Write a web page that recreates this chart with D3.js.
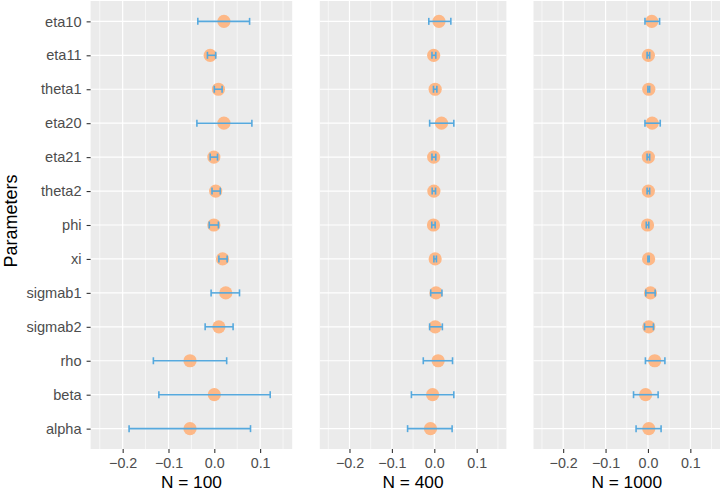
<!DOCTYPE html>
<html>
<head>
<meta charset="utf-8">
<script src="https://cdn.jsdelivr.net/npm/d3@7"></script>
<style>
  body { margin: 0; background: #fff; }
  svg { font-family: "Liberation Sans", Arial, sans-serif; }
</style>
</head>
<body>
<svg id="chart" width="722" height="491"></svg>
<script>
// parameters, top to bottom
const params = ["eta10", "eta11", "theta1", "eta20", "eta21", "theta2", "phi",
                "xi", "sigmab1", "sigmab2", "rho", "beta", "alpha"];

// N = 100
const est100 = [0.021, -0.009, 0.009, 0.021, -0.001, 0.003, -0.001, 0.018, 0.025, 0.010, -0.053, 0.000, -0.053];
const lo100  = [-0.036, -0.015, 0.000, -0.038, -0.009, -0.005, -0.011, 0.010, -0.007, -0.020, -0.133, -0.121, -0.186];
const hi100  = [0.077, 0.003, 0.017, 0.082, 0.007, 0.013, 0.009, 0.028, 0.055, 0.041, 0.027, 0.122, 0.079];

// N = 400
const est400 = [0.011, -0.0015, 0.002, 0.017, -0.0015, -0.001, -0.002, 0.002, 0.004, 0.002, 0.009, -0.004, -0.009];
const lo400  = [-0.013, -0.0055, -0.002, -0.011, -0.0055, -0.005, -0.006, -0.001, -0.0085, -0.011, -0.026, -0.054, -0.063];
const hi400  = [0.039, 0.0035, 0.006, 0.046, 0.0035, 0.003, 0.002, 0.005, 0.018, 0.019, 0.043, 0.046, 0.042];

// N = 1000
const est1000 = [0.009, 0.001, 0.002, 0.010, 0.001, 0.001, -0.001, 0.0016, 0.006, 0.002, 0.016, -0.0055, 0.002];
const lo1000  = [-0.007, -0.002, 0.000, -0.007, -0.002, -0.002, -0.004, 0.000, -0.005, -0.008, -0.006, -0.034, -0.028];
const hi1000  = [0.0275, 0.004, 0.004, 0.029, 0.004, 0.004, 0.002, 0.003, 0.017, 0.013, 0.040, 0.024, 0.031];

const panels = [
  {title: "N = 100",  est: est100,  lo: lo100,  hi: hi100,  x0: 90.6,  x1: 292.2},
  {title: "N = 400",  est: est400,  lo: lo400,  hi: hi400,  x0: 319.8, x1: 506.4},
  {title: "N = 1000", est: est1000, lo: lo1000, hi: hi1000, x0: 533.5, x1: 720}
];

const xTicks = [-0.2, -0.1, 0.0, 0.1],
      xMinor = [-0.25, -0.15, -0.05, 0.05, 0.15];

const plotTop = 1, plotBottom = 449;

const svg = d3.select("#chart");

const y = d3.scalePoint()
    .domain(params)
    .range([plotTop, plotBottom])
    .padding(0.6);

panels.forEach((p, pi) => {
  const x = d3.scaleLinear().domain([-0.27, 0.17]).range([p.x0, p.x1]);
  const g = svg.append("g");

  g.append("rect")
    .attr("x", p.x0).attr("y", plotTop)
    .attr("width", p.x1 - p.x0).attr("height", plotBottom - plotTop)
    .attr("fill", "#ebebeb");

  // minor grid
  g.selectAll(".minor").data(xMinor).enter().append("line")
    .attr("x1", d => x(d)).attr("x2", d => x(d))
    .attr("y1", plotTop).attr("y2", plotBottom)
    .attr("stroke", "#fff").attr("stroke-width", 0.6);

  // major grid
  g.selectAll(".vmajor").data(xTicks).enter().append("line")
    .attr("x1", d => x(d)).attr("x2", d => x(d))
    .attr("y1", plotTop).attr("y2", plotBottom)
    .attr("stroke", "#fff").attr("stroke-width", 1.2);

  g.selectAll(".hmajor").data(params).enter().append("line")
    .attr("x1", p.x0).attr("x2", p.x1)
    .attr("y1", d => y(d)).attr("y2", d => y(d))
    .attr("stroke", "#fff").attr("stroke-width", 1.2);

  // x axis
  const xAxis = d3.axisBottom(x)
    .tickValues(xTicks)
    .tickSize(4)
    .tickFormat(d3.format(".1f"));
  const ax = g.append("g")
    .attr("transform", `translate(0,${plotBottom})`)
    .call(xAxis);
  ax.select(".domain").remove();
  ax.selectAll(".tick line").attr("stroke", "#333").attr("stroke-width", 1.1);
  ax.selectAll(".tick text")
    .attr("fill", "#4d4d4d")
    .attr("y", 19).attr("dy", 0)
    .style("font-size", "14.3px")
    .text(d => d3.format(".1f")(d).replace("-", "\u2212"));

  g.append("text")
    .attr("x", (p.x0 + p.x1) / 2)
    .attr("y", 487.5)
    .attr("text-anchor", "middle")
    .attr("fill", "#000")
    .style("font-size", "17.3px")
    .text(p.title);

  if (pi === 0) {
    const yAxis = d3.axisLeft(y).tickSize(4).tickPadding(5);
    const ay = g.append("g")
      .attr("transform", `translate(${p.x0},0)`)
      .call(yAxis);
    ay.select(".domain").remove();
    ay.selectAll(".tick line").attr("stroke", "#333").attr("stroke-width", 1.1);
    ay.selectAll(".tick text")
      .attr("fill", "#4d4d4d")
      .style("font-size", "14.6px");
  }

  const rows = params.map((name, i) => ({name, est: p.est[i], lo: p.lo[i], hi: p.hi[i]}));

  // points
  g.selectAll(".pt").data(rows).enter().append("circle")
    .attr("cx", d => x(d.est)).attr("cy", d => y(d.name))
    .attr("r", 6.6)
    .attr("fill", "#fdb887");

  // error bars
  const eb = g.selectAll(".eb").data(rows).enter().append("g").attr("class", "eb")
    .attr("stroke", "#56a9de").attr("stroke-width", 1.6).attr("fill", "none");
  eb.append("line")
    .attr("x1", d => x(d.lo)).attr("x2", d => x(d.hi))
    .attr("y1", d => y(d.name)).attr("y2", d => y(d.name));
  eb.append("line")
    .attr("x1", d => x(d.lo)).attr("x2", d => x(d.lo))
    .attr("y1", d => y(d.name) - 3.5).attr("y2", d => y(d.name) + 3.5);
  eb.append("line")
    .attr("x1", d => x(d.hi)).attr("x2", d => x(d.hi))
    .attr("y1", d => y(d.name) - 3.5).attr("y2", d => y(d.name) + 3.5);
});

svg.append("text")
  .attr("transform", `translate(17,221) rotate(-90)`)
  .attr("text-anchor", "middle")
  .attr("fill", "#000")
  .style("font-size", "18px")
  .text("Parameters");
</script>
</body>
</html>
